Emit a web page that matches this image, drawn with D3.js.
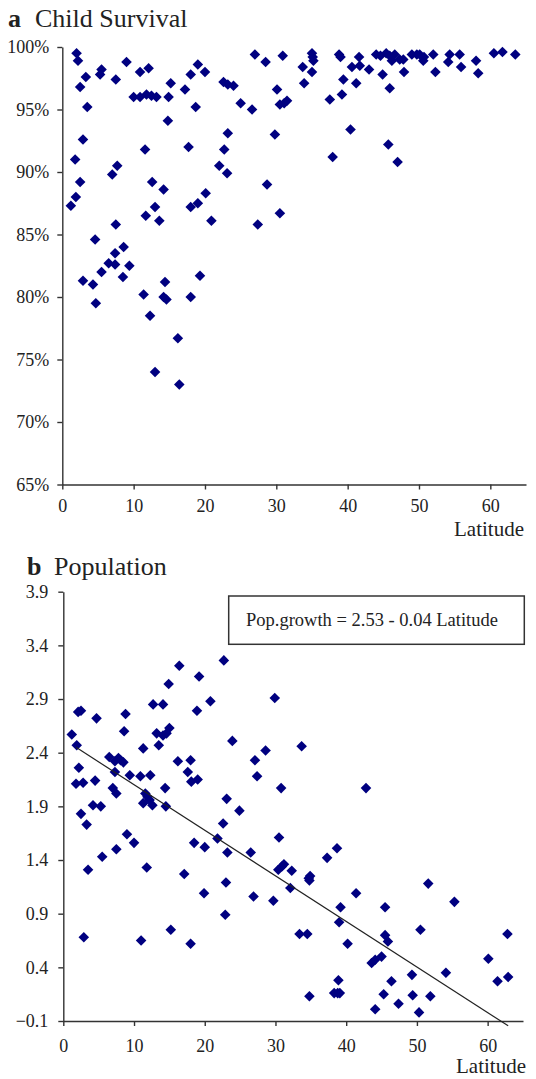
<!DOCTYPE html>
<html>
<head>
<meta charset="utf-8">
<script src="https://cdnjs.cloudflare.com/ajax/libs/d3/7.8.5/d3.min.js"></script>
<style>
  body { margin: 0; background: #fff; }
  svg text { font-family: "Liberation Serif", "Times New Roman", serif; fill: #222; }
  .axis path, .axis line { stroke: #333; stroke-width: 1.4; }
  .axis text { font-size: 18px; }
</style>
</head>
<body>
<div id="chart"></div>
<script>
// panel a: latitude vs child survival (%)
var survivalLat = [2.0,2.2,2.5,3.3,3.5,2.9,1.8,2.5,1.9,1.2,
  5.3,5.5,7.5,9.0,4.6,7.0,7.7,7.5,8.6,7.4,
  6.5,7.4,9.4,8.5,2.9,4.3,4.7,5.5,
  10.0,10.9,12.1,10.9,11.8,12.5,13.2,
  11.6,12.6,13.0,11.7,13.6,14.2,14.8,14.9,15.2,
  11.4,12.3,14.4,14.2,14.6,16.2,13.0,16.4,18.0,19.3,
  17.2,18.0,19.0,20.0,18.7,17.7,18.0,19.0,20.1,20.9,
  22.6,23.2,24.0,25.0,26.6,27.0,28.5,22.7,23.2,22.0,23.1,28.7,27.4,
  30.9,30.1,30.5,31.1,31.5,29.8,30.5,
  33.7,33.9,35.0,35.1,35.2,35.0,
  38.8,39.0,37.5,39.2,39.4,40.6,41.2,41.6,41.7,43.0,40.4,37.9,
  44.0,44.6,44.9,45.4,45.9,46.2,46.6,45.9,45.7,47.0,
  47.3,47.8,47.9,49.0,49.7,50.1,50.7,50.6,
  52.0,52.3,54.3,54.1,55.7,55.9,58.0,58.3,60.5,61.7,63.5];
var survivalPct = [99.5,98.9,96.8,97.6,95.2,92.6,91.0,89.2,88.0,87.3,
  97.8,98.2,97.4,98.8,84.6,89.8,90.5,85.8,84.0,83.5,
  82.7,82.6,82.5,81.6,81.3,81.0,79.5,82.0,
  96.0,98.0,98.3,96.0,96.2,96.1,96.0,
  91.8,89.2,87.2,86.5,86.1,88.6,94.1,96.0,97.1,
  80.2,78.5,81.2,80.0,79.8,76.7,74.0,73.0,80.0,81.7,
  96.6,97.8,98.6,98.0,95.2,92.0,87.2,87.5,88.3,86.1,
  97.2,97.0,96.9,95.5,95.0,99.4,98.8,91.8,93.1,90.5,89.9,89.0,85.8,
  99.3,96.6,95.4,95.5,95.7,93.0,86.7,
  98.4,97.1,99.5,99.2,98.9,98.0,
  99.4,99.2,95.8,96.2,97.4,98.4,97.1,99.2,98.5,98.2,93.4,91.2,
  99.4,99.3,97.8,99.5,99.3,98.9,99.4,96.7,92.2,90.8,
  99.0,99.0,98.0,99.4,99.4,99.4,99.2,98.9,
  99.4,98.0,99.4,98.8,99.4,98.4,98.9,97.9,99.5,99.6,99.4];

// panel b: latitude vs population growth
var popLat = [1.2,1.9,2.1,2.5,4.7,2.2,1.8,2.8,4.5,6.5,
  8.8,8.6,7.3,7.8,8.1,8.5,7.3,9.4,7.0,7.5,
  11.3,10.9,12.3,11.6,11.3,12.2,12.6,11.9,
  12.7,14.1,13.2,14.1,14.6,15.0,13.5,14.9,16.4,19.2,18.9,20.8,
  16.2,18.0,17.6,18.1,19.0,14.4,22.7,23.9,23.1,24.9,
  27.1,27.4,28.6,29.9,33.7,30.8,42.8,
  2.5,3.3,4.2,5.3,3.5,5.5,7.5,9.0,10.0,11.8,14.5,
  2.9,11.0,15.2,18.0,17.1,18.5,20.0,19.9,21.8,22.6,23.2,23.0,22.9,26.5,26.9,
  30.5,29.7,30.4,30.9,31.2,32.3,32.1,34.7,34.9,34.8,37.3,38.7,
  33.4,34.5,34.8,39.2,39.0,40.2,41.4,38.9,38.3,38.8,39.1,
  43.6,44.1,45.0,44.1,45.3,46.4,45.5,45.5,45.9,47.4,49.3,49.4,50.3,50.5,51.6,51.9,54.1,55.3,60.1,61.4,62.9,62.8];
var popGrowth = [2.57,2.47,2.78,2.79,2.72,2.26,2.11,2.12,2.14,2.36,
  2.76,2.60,2.32,2.35,2.33,2.31,2.22,2.19,2.07,2.02,
  2.44,2.18,2.19,2.02,1.93,1.96,1.91,1.99,
  2.85,2.85,2.58,2.56,2.58,2.63,2.47,3.04,3.21,3.11,2.79,2.88,
  2.32,2.33,2.22,2.13,2.15,2.07,3.26,2.51,1.97,1.86,
  2.33,2.18,2.42,2.91,2.46,2.07,2.07,
  1.83,1.73,1.91,1.90,1.31,1.43,1.50,1.64,1.56,1.33,1.90,
  0.68,0.65,0.75,0.62,1.27,1.56,1.52,1.09,1.60,1.74,1.47,1.19,0.89,1.47,1.06,
  1.61,1.02,1.31,1.34,1.36,1.30,1.14,1.23,1.25,1.21,1.42,1.51,
  0.71,0.71,0.13,0.96,0.82,0.62,1.09,0.28,0.16,0.16,0.16,
  0.44,0.47,0.50,0.01,0.15,0.27,0.96,0.70,0.64,0.06,0.33,0.14,-0.02,0.75,1.18,0.13,0.35,1.01,0.48,0.27,0.31,0.71];

// fitted line end points as drawn
var trendLat = [1.8, 62.9];
var trendGrowth = [2.45, -0.145];

var latTicks = [0, 10, 20, 30, 40, 50, 60];
var survivalTicks = [65, 70, 75, 80, 85, 90, 95, 100];
var growthTicks = [-0.1, 0.4, 0.9, 1.4, 1.9, 2.4, 2.9, 3.4, 3.9];
var equationText = "Pop.growth = 2.53 - 0.04 Latitude";

var W = 536, H = 1079;
var serif = "'Liberation Serif', 'Times New Roman', serif";
var svg = d3.select("#chart").append("svg").attr("width", W).attr("height", H);

var diamond = d3.symbol().type(d3.symbolSquare).size(56);
var markColor = "#000080";

// ---------- panel a ----------
var xa = d3.scaleLinear().domain([0, 65]).range([62.3, 526]);
var ya = d3.scaleLinear().domain([65, 100]).range([484.5, 47]);

svg.append("g").attr("class", "axis")
  .attr("transform", "translate(0," + ya(65) + ")")
  .call(d3.axisBottom(xa).tickValues(latTicks).tickSize(5).tickSizeOuter(0).tickPadding(10))
  .attr("font-family", serif).attr("font-size", 18);
svg.append("g").attr("class", "axis")
  .attr("transform", "translate(" + xa(0) + ",0)")
  .call(d3.axisLeft(ya).tickValues(survivalTicks).tickSize(5).tickSizeOuter(0).tickPadding(8)
    .tickFormat(function (d) { return d + "%"; }))
  .attr("font-family", serif).attr("font-size", 18);

svg.append("g").selectAll("path")
  .data(d3.range(survivalLat.length))
  .enter().append("path")
  .attr("d", diamond)
  .attr("transform", function (i) { return "translate(" + xa(survivalLat[i]) + "," + ya(survivalPct[i]) + ") rotate(45)"; })
  .style("fill", markColor);

svg.append("text").attr("x", 8).attr("y", 27).style("font-size", "26px").style("font-weight", "bold").text("a");
svg.append("text").attr("x", 35).attr("y", 27).style("font-size", "26px").text("Child Survival");
svg.append("text").attr("x", 524).attr("y", 536).attr("text-anchor", "end").style("font-size", "21px").text("Latitude");

// ---------- panel b ----------
var xb = d3.scaleLinear().domain([0, 65]).range([63.3, 523]);
var yb = d3.scaleLinear().domain([-0.1, 3.9]).range([1021, 591.7]);

svg.append("g").attr("class", "axis")
  .attr("transform", "translate(0," + yb(-0.1) + ")")
  .call(d3.axisBottom(xb).tickValues(latTicks).tickSize(5).tickSizeOuter(0).tickPadding(13))
  .attr("font-family", serif).attr("font-size", 18);
svg.append("g").attr("class", "axis")
  .attr("transform", "translate(" + xb(0) + ",0)")
  .call(d3.axisLeft(yb).tickValues(growthTicks).tickSize(5).tickSizeOuter(0).tickPadding(10)
    .tickFormat(d3.format(".1f")))
  .attr("font-family", serif).attr("font-size", 18);

svg.append("g").selectAll("path")
  .data(d3.range(popLat.length))
  .enter().append("path")
  .attr("d", diamond)
  .attr("transform", function (i) { return "translate(" + xb(popLat[i]) + "," + yb(popGrowth[i]) + ") rotate(45)"; })
  .style("fill", markColor);

var trendLine = d3.line()
  .x(function (i) { return xb(trendLat[i]); })
  .y(function (i) { return yb(trendGrowth[i]); });
svg.append("path")
  .datum([0, 1])
  .attr("d", trendLine)
  .style("fill", "none").style("stroke", "#222").style("stroke-width", 1.2);

svg.append("rect").attr("x", 228.7).attr("y", 596).attr("width", 295.6).attr("height", 48.3)
  .style("fill", "#fff").style("stroke", "#333").style("stroke-width", 1.5);
svg.append("text").attr("x", 246).attr("y", 626).style("font-size", "18.5px").text(equationText);

svg.append("text").attr("x", 27).attr("y", 575).style("font-size", "26px").style("font-weight", "bold").text("b");
svg.append("text").attr("x", 54).attr("y", 575).style("font-size", "26px").text("Population");
svg.append("text").attr("x", 526).attr("y", 1073).attr("text-anchor", "end").style("font-size", "21px").text("Latitude");
</script>
</body>
</html>
